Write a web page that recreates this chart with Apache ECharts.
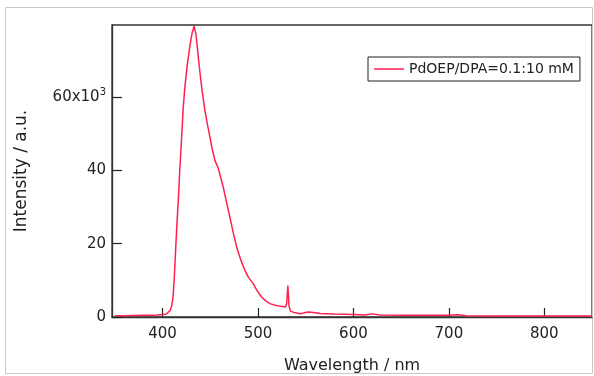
<!DOCTYPE html>
<html>
<head>
<meta charset="utf-8">
<script src="https://cdn.jsdelivr.net/npm/echarts@6/dist/echarts.min.js"></script>
<style>
html,body{margin:0;padding:0;background:#fff;}
#c{width:594px;height:376px;}
</style>
</head>
<body>
<div id="c"></div>
<script>
// Wavelength (nm)
const wavelength = [350,360,370,380,390,395,400,404,406,408,409.5,411,412,413,414,415,416.5,418,420,421.6,423.5,426,429,431,433,435,437,439,441.5,444.3,447,449.6,452,454.8,458.3,461,463.5,467,470.5,474,477.6,482,486.3,490,495,499,503.8,508,512.5,518,524,528.5,530,531.3,532.5,534,538,544,548,552,556,565,580,600,612,620,628,650,680,700,710,718,750,800,850];
// Intensity (x10^3 a.u.)
const intensity = [0.35,0.35,0.4,0.45,0.5,0.55,0.65,0.8,1.1,1.8,3.0,5.5,9.5,14.6,20,25,32,40,49,57,63,69,74.5,77.5,79.3,77,72,67,61.5,56.4,52.5,49.1,45.8,42.7,40.6,38,35.5,31.3,27.3,23,19.1,15.5,12.7,10.8,9.1,7.2,5.45,4.4,3.65,3.2,2.9,2.7,3.5,8.6,3.0,1.6,1.2,0.9,1.1,1.35,1.3,0.95,0.8,0.65,0.55,0.85,0.55,0.45,0.45,0.45,0.6,0.35,0.3,0.3,0.3];
const xTicks = [400,500,600,700,800];
const yTicks = [0,20,40,60];
const seriesName = 'PdOEP/DPA=0.1:10 mM';

const chart = echarts.init(document.getElementById('c'));
const font = '"DejaVu Sans", Arial, sans-serif';
chart.setOption({
  animation:false,
  backgroundColor:'#fff',
  graphic:[{type:'rect',shape:{x:5.5,y:7.5,width:587,height:366},style:{fill:null,stroke:'#c8c8c8',lineWidth:1},silent:true}],
  grid:{left:112,top:25,right:2,bottom:59,show:true,borderColor:'#333',borderWidth:1.3,outerBoundsMode:'none',containLabel:false},
  legend:{
    left:368,top:57,
    data:[{name:seriesName,icon:'path://M0,0 L30,0 L30,1.5 L0,1.5 Z'}],
    itemWidth:30,itemHeight:2,itemGap:0,
    padding:[5,6,5,6],
    borderColor:'#222',borderWidth:1,
    textStyle:{fontFamily:font,fontSize:14,color:'#222'}
  },
  xAxis:{
    type:'value',min:347,max:850,
    name:'Wavelength / nm',nameLocation:'middle',nameGap:41,
    nameTextStyle:{fontFamily:font,fontSize:16,color:'#222'},
    splitLine:{show:false},
    axisLine:{show:true,lineStyle:{color:'#333',width:1.3}},
    axisTick:{show:true,inside:true,length:9,customValues:xTicks,lineStyle:{color:'#222',width:1.2}},
    axisLabel:{customValues:xTicks,margin:10,fontFamily:font,fontSize:15,color:'#222'}
  },
  yAxis:{
    type:'value',min:0,max:79.6,
    name:'Intensity / a.u.',nameLocation:'middle',nameGap:82,
    nameTextStyle:{fontFamily:font,fontSize:17,color:'#222'},
    splitLine:{show:false},
    axisLine:{show:true,lineStyle:{color:'#333',width:1.3}},
    axisTick:{show:true,inside:true,length:10,customValues:yTicks,lineStyle:{color:'#222',width:1.2}},
    axisLabel:{customValues:yTicks,margin:6,fontFamily:font,fontSize:15,color:'#222',
      formatter:function(v){return v===60?'{a|60x10}{b|3}':'{a|'+v+'}';},
      rich:{a:{fontFamily:font,fontSize:15,color:'#222'},b:{fontFamily:font,fontSize:10,color:'#222',padding:[0,0,9,0]}}
    }
  },
  series:[{
    name:seriesName,type:'line',showSymbol:false,symbol:'none',
    data:wavelength.map((w,i)=>[w,intensity[i]]),
    lineStyle:{color:'#ff2050',width:1.5},
    itemStyle:{color:'#ff2050'}
  }]
});
</script>
</body>
</html>
